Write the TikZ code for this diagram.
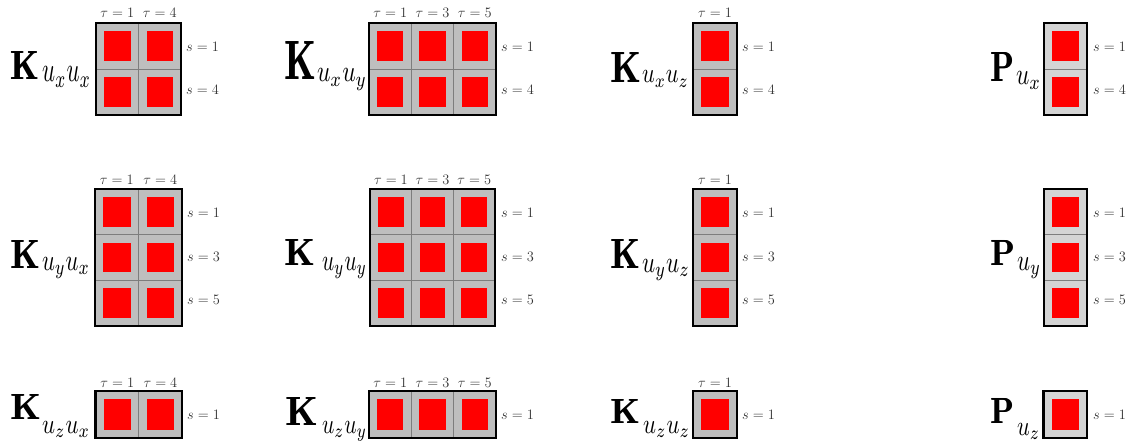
\documentclass[tikz,border=0pt]{standalone}
\usepackage{graphicx}
\definecolor{kgray}{RGB}{190,190,190}
\definecolor{pgray}{RGB}{212,212,212}
\definecolor{gline}{RGB}{125,125,125}
\definecolor{txt}{RGB}{50,50,50}
\newcommand{\gridpanel}[8]{%
  \fill[#8] (#2,#3) rectangle ++({#4*#6},{#5*#7});
  \foreach \i in {1,...,#4}{\ifnum\i<#4 \draw[gline,line width=0.8pt] ({#2+\i*#6},#3) -- ++(0,{#5*#7});\fi}
  \foreach \j in {1,...,#5}{\ifnum\j<#5 \draw[gline,line width=0.8pt] (#2,{#3+\j*#7}) -- ++({#4*#6},0);\fi}
  \foreach \i in {1,...,#4}{\foreach \j in {1,...,#5}{%
    \fill[red] ({#2+(\i-1)*#6+8},{#3+(\j-1)*#7+8}) rectangle ++({#6-16},{#7-16});}}
  \draw[line width=2.4pt] (#2,#3) rectangle ++({#4*#6},{#5*#7});
  \coordinate (#1) at (#2,#3);
}
\newcommand{\heavy}[1]{\rlap{$\mathbf{#1}$}\kern0.35pt$\mathbf{#1}$}
\newcommand{\mlabel}[6]{\node[lett] (#1) at (#2,#3) {\resizebox{#4pt}{#5pt}{\heavy{#6}}};}
\newcommand{\slabel}[6]{\node[lett] (#1) at (#2,#3) {\resizebox{#4pt}{#5pt}{$#6$}};}
\begin{document}
\begin{tikzpicture}[x=1pt,y=-1pt,
  lett/.style={anchor=base west,inner sep=0pt,outer sep=0pt},
  tlab/.style={anchor=base,inner sep=0pt,text=txt,font=\fontsize{14.5}{16}\selectfont},
  srow/.style={anchor=west,inner sep=0pt,text=txt,font=\fontsize{14.5}{16}\selectfont}]
\useasboundingbox[fill=white] (0,0) rectangle (1138,441);
% ---------- grids ----------
\gridpanel{g11}{96}{23}{2}{2}{42.5}{46}{kgray}
\gridpanel{g12}{369}{23}{3}{2}{42.3}{46}{kgray}
\gridpanel{g13}{693}{23}{1}{2}{44}{46}{kgray}
\gridpanel{g14}{1044}{23}{1}{2}{43}{46}{pgray}
\gridpanel{g21}{95}{189}{2}{3}{43.5}{45.7}{kgray}
\gridpanel{g22}{370}{189}{3}{3}{41.7}{45.7}{kgray}
\gridpanel{g23}{693}{189}{1}{3}{44}{45.7}{kgray}
\gridpanel{g24}{1044}{189}{1}{3}{43}{45.7}{pgray}
\gridpanel{g31}{95.5}{391}{2}{1}{43.3}{47}{kgray}
\gridpanel{g32}{369}{391}{3}{1}{42.3}{47}{kgray}
\gridpanel{g33}{693}{391}{1}{1}{44}{47}{kgray}
\gridpanel{g34}{1043.5}{391}{1}{1}{43.5}{47}{pgray}
% ---------- tau labels ----------
\node[tlab] (t111) at (117.3,18) {$\tau=1$};
\node[tlab] (t114) at (159.8,18) {$\tau=4$};
\node[tlab] (t121) at (390.2,18) {$\tau=1$};
\node[tlab] (t123) at (432.5,18) {$\tau=3$};
\node[tlab] (t125) at (474.8,18) {$\tau=5$};
\node[tlab] (t131) at (715,18) {$\tau=1$};
\node[tlab] (t211) at (116.8,185) {$\tau=1$};
\node[tlab] (t214) at (160.3,185) {$\tau=4$};
\node[tlab] (t221) at (390.9,185) {$\tau=1$};
\node[tlab] (t223) at (432.6,185) {$\tau=3$};
\node[tlab] (t225) at (474.3,185) {$\tau=5$};
\node[tlab] (t231) at (715,185) {$\tau=1$};
\node[tlab] (t311) at (117.2,387) {$\tau=1$};
\node[tlab] (t314) at (160.4,387) {$\tau=4$};
\node[tlab] (t321) at (390.2,387) {$\tau=1$};
\node[tlab] (t323) at (432.5,387) {$\tau=3$};
\node[tlab] (t325) at (474.8,387) {$\tau=5$};
\node[tlab] (t331) at (715,387) {$\tau=1$};
% ---------- s labels ----------
\node[srow] (s111) at (186,47) {$s=1$};
\node[srow] (s114) at (186,90) {$s=4$};
\node[srow] (s121) at (501,47) {$s=1$};
\node[srow] (s124) at (501,90) {$s=4$};
\node[srow] (s131) at (742,47) {$s=1$};
\node[srow] (s134) at (742,90) {$s=4$};
\node[srow] (s141) at (1093,47) {$s=1$};
\node[srow] (s144) at (1093,90) {$s=4$};
\node[srow] (s211) at (187,213) {$s=1$};
\node[srow] (s213) at (187,257) {$s=3$};
\node[srow] (s215) at (187,300) {$s=5$};
\node[srow] (s221) at (501,213) {$s=1$};
\node[srow] (s223) at (501,257) {$s=3$};
\node[srow] (s225) at (501,300) {$s=5$};
\node[srow] (s231) at (742,213) {$s=1$};
\node[srow] (s233) at (742,257) {$s=3$};
\node[srow] (s235) at (742,300) {$s=5$};
\node[srow] (s241) at (1093,213) {$s=1$};
\node[srow] (s243) at (1093,257) {$s=3$};
\node[srow] (s245) at (1093,300) {$s=5$};
\node[srow] (s311) at (187,415) {$s=1$};
\node[srow] (s321) at (501,415) {$s=1$};
\node[srow] (s331) at (742,415) {$s=1$};
\node[srow] (s341) at (1093,415) {$s=1$};
% ---------- matrix names ----------
\mlabel{m11}{10}{80}{29}{28}{K}  \slabel{b11}{42}{82}{49}{15}{u_xu_x}
\mlabel{m12}{284}{80}{32}{38}{K} \slabel{b12}{317}{82}{50}{13}{u_xu_y}
\mlabel{m13}{610}{83}{31}{30}{K} \slabel{b13}{642}{83}{47}{12}{u_xu_z}
\mlabel{m14}{990}{82}{24}{29}{P} \slabel{b14}{1016}{85}{25}{13}{u_x}
\mlabel{m21}{10}{268}{30}{28}{K} \slabel{b21}{42}{270}{48}{13}{u_yu_x}
\mlabel{m22}{284}{265}{31}{26}{K} \slabel{b22}{322}{270}{45}{13}{u_yu_y}
\mlabel{m23}{610}{268}{30}{29}{K} \slabel{b23}{642}{272}{48}{13}{u_yu_z}
\mlabel{m24}{990}{265}{25}{25}{P} \slabel{b24}{1017}{270}{24}{13}{u_y}
\mlabel{m31}{10}{419}{31}{25}{K} \slabel{b31}{42}{433}{48}{12}{u_zu_x}
\mlabel{m32}{285}{425}{33}{28}{K} \slabel{b32}{322}{433}{45}{12}{u_zu_y}
\mlabel{m33}{610}{423}{30}{24}{K} \slabel{b33}{643}{433}{47}{12}{u_zu_z}
\mlabel{m34}{990}{423}{24}{25}{P} \slabel{b34}{1017}{435}{23}{12}{u_z}
\end{tikzpicture}
\end{document}
